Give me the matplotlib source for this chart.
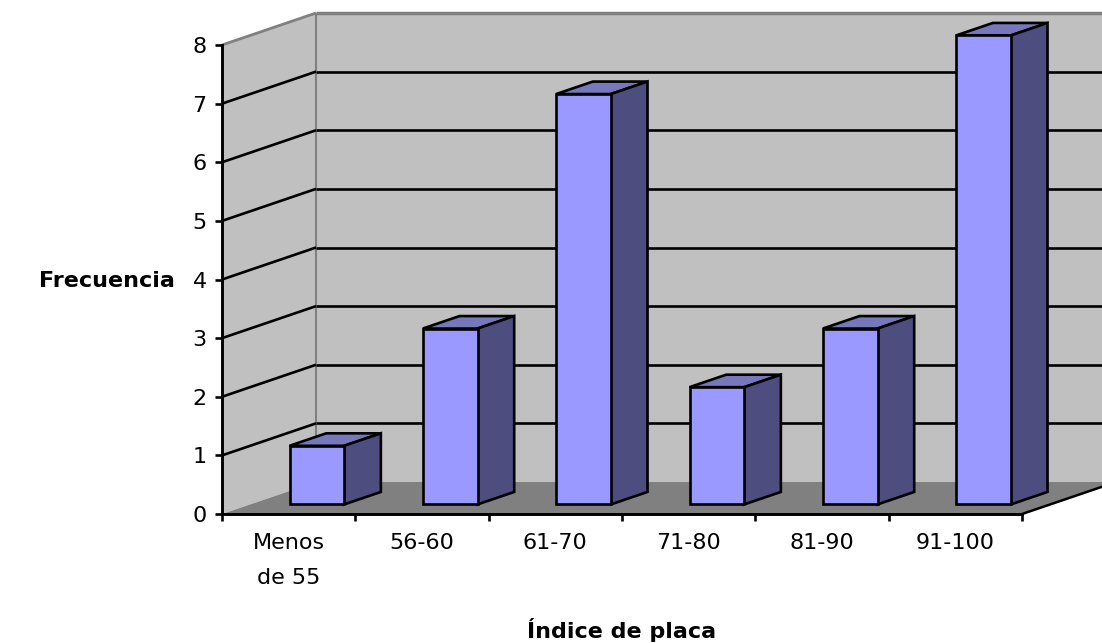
import numpy as np
import matplotlib
matplotlib.use('Agg')
import matplotlib.pyplot as plt
from matplotlib.patches import Polygon

categories = ['Menos\nde 55', '56-60', '61-70', '71-80', '81-90', '91-100']
freq = [1, 3, 7, 2, 3, 8]
y_ticks = [0, 1, 2, 3, 4, 5, 6, 7, 8]

# oblique depth shift, in category / value units
DX, DY = 0.705, 0.546
ymax = 8
nc = len(categories)
bar_w = 0.41
d0, d1 = 0.30, 0.69   # bar front / back depth

wall = '#C0C0C0'
floor = '#808080'
edge_gray = '#808080'
c_front, c_top, c_side = '#9999FF', '#7777BB', '#4D4D80'


def proj(x, y, d):
    return (x + d * DX, y + d * DY)


def face(ax, pts, color, z, ec='none', lw=0):
    poly = Polygon([proj(*p) for p in pts], closed=True, facecolor=color,
                   edgecolor=ec, linewidth=lw, zorder=z, joinstyle='miter')
    ax.add_patch(poly)


def line3(ax, a, b, **kw):
    pa, pb = proj(*a), proj(*b)
    ax.plot([pa[0], pb[0]], [pa[1], pb[1]], solid_capstyle='butt', **kw)


fig = plt.figure(figsize=(11.02, 6.43), dpi=100)
ax = fig.add_axes([0, 0, 1, 1])
ax.set_xlim(-1.665, 6.6)
ax.set_ylim(-2.2, 8.768)
fig.patch.set_facecolor('white')
ax.set_facecolor('none')

# walls and floor
face(ax, [(0, 0, 1), (nc, 0, 1), (nc, ymax, 1), (0, ymax, 1)], wall, 0)
face(ax, [(0, 0, 0), (0, 0, 1), (0, ymax, 1), (0, ymax, 0)], wall, 0)
face(ax, [(0, 0, 0), (nc, 0, 0), (nc, 0, 1), (0, 0, 1)], floor, 0.5)

line3(ax, (0, ymax, 0), (0, ymax, 1), color=edge_gray, lw=2, zorder=1)
line3(ax, (0, ymax, 1), (nc + 1, ymax, 1), color=edge_gray, lw=2.5, zorder=1)
line3(ax, (0, 0, 1), (0, ymax, 1), color=edge_gray, lw=1.5, zorder=0.6)
line3(ax, (nc, 0, 0), (nc, 0, 1), color='black', lw=1.8, zorder=1)

# gridlines across side wall and back wall
for v in y_ticks[1:-1]:
    line3(ax, (0, v, 0), (0, v, 1), color='black', lw=1.9, zorder=1)
    line3(ax, (0, v, 1), (nc + 1, v, 1), color='black', lw=1.9, zorder=1)

# columns
for i, v in enumerate(freq):
    x0 = i + 0.5 - bar_w / 2
    x1 = i + 0.5 + bar_w / 2
    z = 2 + i * 0.01
    kw = dict(ec='black', lw=1.9)
    face(ax, [(x0, v, d0), (x1, v, d0), (x1, v, d1), (x0, v, d1)], c_top, z, **kw)
    face(ax, [(x1, 0, d0), (x1, 0, d1), (x1, v, d1), (x1, v, d0)], c_side, z, **kw)
    face(ax, [(x0, 0, d0), (x1, 0, d0), (x1, v, d0), (x0, v, d0)], c_front, z, **kw)

# front axes
for s in ['top', 'right']:
    ax.spines[s].set_visible(False)
ax.spines['left'].set_position(('data', 0))
ax.spines['bottom'].set_position(('data', 0))
ax.spines['left'].set_bounds(0, ymax)
ax.spines['bottom'].set_bounds(0, nc)
for s in ['left', 'bottom']:
    ax.spines[s].set_linewidth(2.1)
    ax.spines[s].set_zorder(3)

ax.set_yticks(y_ticks)
ax.set_yticklabels([str(t) for t in y_ticks])
ax.set_xticks(np.arange(nc + 1))
ax.set_xticklabels([])
ax.tick_params(axis='both', which='major', direction='out', length=5, width=1.9,
               labelsize=16, pad=6)

# category names under each column slot
for i, name in enumerate(categories):
    ax.text(i + 0.5, -0.33, name, ha='center', va='top', fontsize=16,
            linespacing=1.9, multialignment='center')

ax.set_ylabel('Frecuencia', rotation=0, fontsize=16, fontweight='bold',
              ha='center', va='center')
ax.yaxis.set_label_coords(-0.8625, 3.97, transform=ax.transData)
ax.set_xlabel('Índice de placa', fontsize=16, fontweight='bold',
              ha='center', va='center')
ax.xaxis.set_label_coords(3.0, -1.98, transform=ax.transData)

fig.savefig('out.png', dpi=100)
